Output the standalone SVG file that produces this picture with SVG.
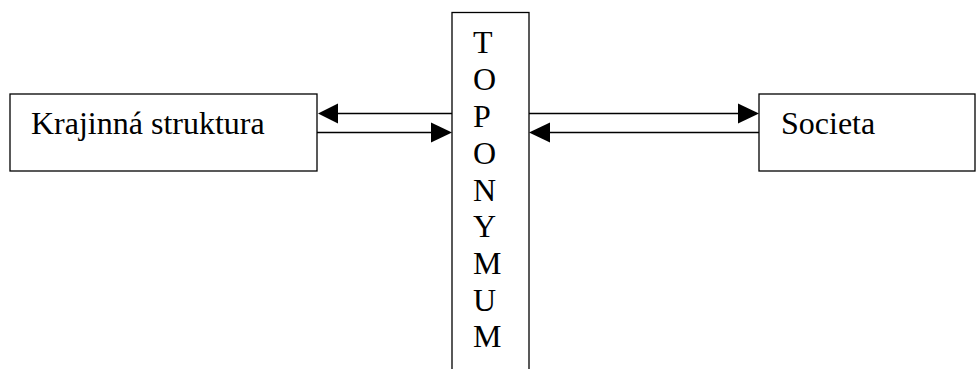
<svg xmlns="http://www.w3.org/2000/svg" width="976" height="369" viewBox="0 0 976 369">
<style>
.box{fill:#fff;stroke:#000;stroke-width:1.3}
.lbl{font-family:"Liberation Serif","Times New Roman",serif;font-size:32px;fill:#000}
.conn{stroke:#000;stroke-width:1.6;fill:none}
.head{fill:#000}
</style>
<g id="node-krajinna">
<rect class="box" x="10" y="94" width="307" height="77"/>
<text class="lbl" x="31" y="134">Krajinná struktura</text>
</g>
<g id="node-toponymum">
<rect class="box" x="452" y="12.5" width="77" height="370"/>
<text class="lbl" x="473" y="53">T</text>
<text class="lbl" x="473" y="90">O</text>
<text class="lbl" x="473" y="127">P</text>
<text class="lbl" x="473" y="164">O</text>
<text class="lbl" x="473" y="200.5">N</text>
<text class="lbl" x="473" y="237">Y</text>
<text class="lbl" x="473" y="274">M</text>
<text class="lbl" x="473" y="310.5">U</text>
<text class="lbl" x="473" y="347">M</text>
</g>
<g id="node-societa">
<rect class="box" x="759" y="94" width="216" height="77"/>
<text class="lbl" x="781" y="134">Societa</text>
</g>
<g id="connectors">
<line class="conn" x1="452" y1="113.5" x2="336" y2="113.5"/>
<polygon class="head" points="318,113.5 338,103.5 338,123.5"/>
<line class="conn" x1="317" y1="132.5" x2="433" y2="132.5"/>
<polygon class="head" points="452,132.5 431,122.5 431,142.5"/>
<line class="conn" x1="529" y1="113.5" x2="740" y2="113.5"/>
<polygon class="head" points="759,113.5 738,103.5 738,123.5"/>
<line class="conn" x1="759" y1="132.5" x2="548" y2="132.5"/>
<polygon class="head" points="529,132.5 550,122.5 550,142.5"/>
</g>
</svg>
